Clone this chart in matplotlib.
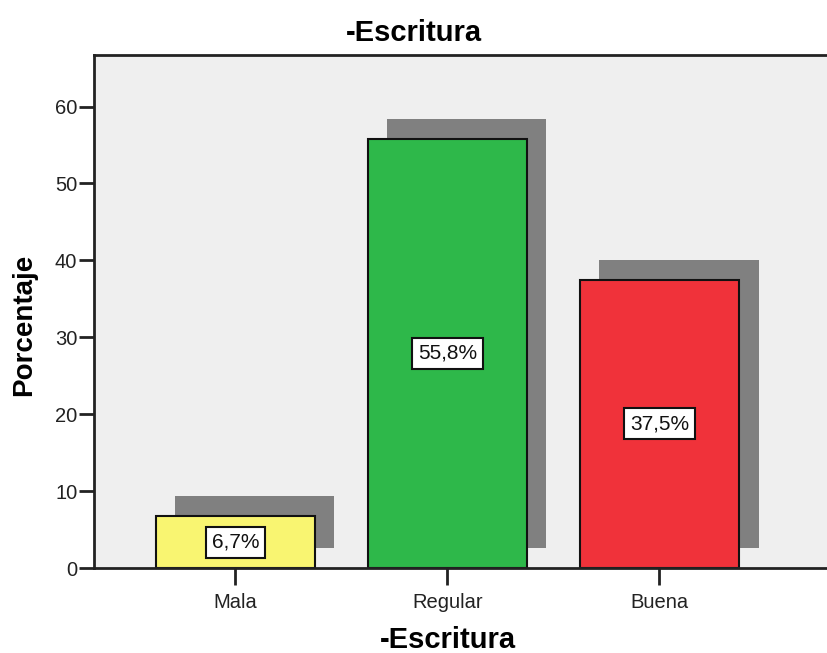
import matplotlib
matplotlib.use("Agg")
import matplotlib.pyplot as plt
import matplotlib.transforms as mtransforms

plt.rcParams["font.family"] = ["Liberation Sans", "DejaVu Sans"]

# datos
categorias = ["Mala", "Regular", "Buena"]
porcentajes = [6.7, 55.8, 37.5]
etiquetas = ["6,7%", "55,8%", "37,5%"]
colores = ["#F9F571", "#2EB84A", "#F0323A"]
yticks = [0, 10, 20, 30, 40, 50, 60]

fig = plt.figure(figsize=(8.27, 6.53), dpi=100)
ax = fig.add_axes([94 / 827, 85 / 653, 1 - 94 / 827, 513 / 653])
ax.set_facecolor("#EFEFEF")

x = list(range(len(categorias)))

# sombra desplazada hacia arriba y a la derecha
sombra = ax.transData + mtransforms.ScaledTranslation(0.195, 0.20, fig.dpi_scale_trans)
ax.bar(x, porcentajes, width=0.75, color="#808080", transform=sombra, zorder=1)

ax.bar(x, porcentajes, width=0.75, color=colores, edgecolor="#111111",
       linewidth=1.5, zorder=2)

for xi, v, t in zip(x, porcentajes, etiquetas):
    ax.text(xi, v / 2, t, ha="center", va="center", fontsize=15, zorder=3,
            color="#111111",
            bbox=dict(boxstyle="square,pad=0.28", facecolor="white",
                      edgecolor="#111111", linewidth=1.5))

ax.set_xlim(-0.667, 2.79)
ax.set_ylim(0, 66.7)
ax.set_yticks(yticks)
ax.set_xticks(x)
ax.set_xticklabels(categorias)

for s in ["left", "top", "bottom"]:
    ax.spines[s].set_linewidth(2)
    ax.spines[s].set_color("#222222")
ax.spines["right"].set_visible(False)

ax.tick_params(axis="y", length=11, width=2, color="#222222", labelsize=14.5,
               pad=1, labelcolor="#222222")
ax.tick_params(axis="x", length=12, width=2, color="#222222", labelsize=14.5,
               pad=6, labelcolor="#222222")

fig.text(0.5, 1 - 33 / 653, "-Escritura", ha="center", va="center",
         fontsize=21, fontweight="bold")
fig.text(448 / 827, 1 - 640 / 653, "-Escritura", ha="center", va="center",
         fontsize=21, fontweight="bold")
fig.text(24 / 827, 1 - 325 / 653, "Porcentaje", ha="center", va="center",
         rotation=90, fontsize=20, fontweight="bold")

fig.savefig("out.png", dpi=100)
